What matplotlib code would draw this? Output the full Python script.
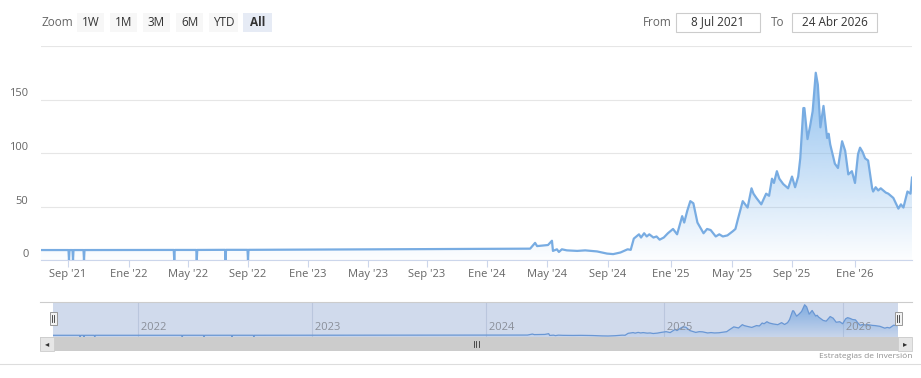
import matplotlib
matplotlib.use("Agg")

import matplotlib.pyplot as plt
import matplotlib.dates as mdates
import numpy as np
import pandas as pd
from matplotlib.patches import Rectangle, Polygon
from matplotlib.lines import Line2D


# ==================================================
# DATA
# ==================================================

dates = [
    "2021-07-08", "2021-09-02", "2021-09-03", "2021-09-04", "2021-09-10",
    "2021-09-11", "2021-09-12", "2021-10-02", "2021-10-03", "2021-10-04",
    "2022-04-02", "2022-04-03", "2022-04-04", "2022-05-18", "2022-05-19",
    "2022-05-20", "2022-07-16", "2022-07-17", "2022-07-18", "2022-08-31",
    "2022-09-01", "2022-09-02", "2023-01-15", "2023-06-01", "2023-11-01",
    "2024-03-28", "2024-04-07", "2024-04-11", "2024-04-22", "2024-05-03",
    "2024-05-11", "2024-05-13", "2024-05-21", "2024-05-25", "2024-05-31",
    "2024-06-10", "2024-07-01", "2024-07-17", "2024-08-10", "2024-08-30",
    "2024-09-11", "2024-09-25", "2024-10-09", "2024-10-15", "2024-10-21",
    "2024-10-31", "2024-11-04", "2024-11-10", "2024-11-15", "2024-11-20",
    "2024-11-28", "2024-12-04", "2024-12-10", "2024-12-18", "2024-12-26",
    "2025-01-05", "2025-01-13", "2025-01-23", "2025-01-27", "2025-02-02",
    "2025-02-08", "2025-02-14", "2025-02-22", "2025-03-06", "2025-03-13",
    "2025-03-20", "2025-03-30", "2025-04-06", "2025-04-13", "2025-04-22",
    "2025-05-03", "2025-05-08", "2025-05-13", "2025-05-23", "2025-06-02",
    "2025-06-10", "2025-06-14", "2025-06-20", "2025-06-30", "2025-07-04",
    "2025-07-10", "2025-07-16", "2025-07-22", "2025-07-26", "2025-08-01",
    "2025-08-06", "2025-08-14", "2025-08-24", "2025-09-01", "2025-09-07",
    "2025-09-13", "2025-09-17", "2025-09-23", "2025-09-25", "2025-10-01",
    "2025-10-06", "2025-10-11", "2025-10-17", "2025-10-21", "2025-10-26",
    "2025-11-01", "2025-11-08", "2025-11-11", "2025-11-14", "2025-11-19",
    "2025-11-23", "2025-11-29", "2025-12-07", "2025-12-13", "2025-12-19",
    "2025-12-26", "2026-01-01", "2026-01-07", "2026-01-11", "2026-01-16",
    "2026-01-21", "2026-01-27", "2026-02-04", "2026-02-06", "2026-02-11",
    "2026-02-16", "2026-02-21", "2026-02-26", "2026-03-03", "2026-03-08",
    "2026-03-13", "2026-03-18", "2026-03-28", "2026-04-02", "2026-04-07",
    "2026-04-15", "2026-04-21", "2026-04-24",
]

values = [
    9.3, 9.3, 0, 9.3, 9.3,
    0, 9.3, 9.3, 0, 9.3,
    9.4, 0, 9.4, 9.4, 0,
    9.4, 9.5, 0, 9.5, 9.5,
    0, 9.5, 9.7, 10.0, 10.3,
    10.6, 16, 13, 13.5, 14,
    18, 8.5, 10, 7.5, 10,
    9, 8.5, 9, 8, 6,
    5.5, 7, 10, 9.5, 20,
    24, 21, 25, 22, 24,
    21, 22, 19, 21, 25,
    29, 24, 41, 35, 46,
    55, 53, 35, 25, 29,
    28, 22, 24, 22, 23,
    27, 29, 38, 55, 49,
    67, 62, 58, 52, 56,
    62, 60, 76, 72, 83,
    76, 71, 67, 78, 68,
    78, 95, 142, 142, 113,
    125, 139, 175, 164, 124,
    144, 114, 118, 108, 98,
    90, 86, 111, 102, 80,
    83, 72, 99, 105, 101,
    95, 93, 67, 64, 68,
    65, 67, 65, 63, 62,
    60, 58, 48, 52, 49,
    64, 62, 77,
]

y_ticks = [0, 50, 100, 150, 200]
month_names = {1: "Ene", 5: "May", 9: "Sep"}
zoom_buttons = ["1W", "1M", "3M", "6M", "YTD", "All"]
date_from = "8 Jul 2021"
date_to = "24 Abr 2026"
nav_years = [2022, 2023, 2024, 2025, 2026]
credit = "Estrategias de Inversión"

# ordinal-like axis: where each date anchor sits along the axis (px)
axis_anchor_dates = [
    "2021-07-08", "2021-09-01", "2022-01-01", "2022-05-01", "2022-09-01",
    "2023-01-01", "2023-05-01", "2023-09-01", "2024-01-01", "2024-05-01",
    "2024-09-01", "2025-01-01", "2025-05-01", "2025-09-01", "2026-01-01",
    "2026-04-24",
]
axis_anchor_pos = [
    41, 68, 129, 188, 248, 308, 368, 427, 487, 547, 608, 671, 732, 792,
    855, 912,
]


# ==================================================
# STYLE
# ==================================================

plt.rcParams["font.family"] = ["Open Sans", "DejaVu Sans"]

W, H = 921, 378
LINE = "#78ace2"
FILL_RGB = np.array([124, 181, 236]) / 255
GRID = "#e6e6e6"
LABEL = "#666666"


def fx(x):
    return x / W


def fy(y):
    return 1 - y / H


def ax_rect(x0, y0, x1, y1):
    return [fx(x0), fy(y1), fx(x1) - fx(x0), fy(y0) - fy(y1)]


x = mdates.date2num(pd.to_datetime(dates))
v = np.array(values, dtype=float)

anc_d = mdates.date2num(pd.to_datetime(axis_anchor_dates))
anc_p = np.array(axis_anchor_pos, dtype=float)


def fwd(d):
    return np.interp(d, anc_d, anc_p)


def inv(p):
    return np.interp(p, anc_p, anc_d)


def gradient_area(ax, top, a_top, a_bot, line_color, lw):
    grad = np.zeros((256, 1, 4))
    grad[:, 0, :3] = FILL_RGB
    grad[:, 0, 3] = np.linspace(a_bot, a_top, 256)
    im = ax.imshow(
        grad, origin="lower", aspect="auto",
        extent=[x[0], x[-1], 0, top], zorder=1,
        interpolation="bilinear"
    )
    verts = [(x[0], 0)] + list(zip(x, v)) + [(x[-1], 0)]
    poly = Polygon(verts, closed=True, facecolor="none", edgecolor="none")
    ax.add_patch(poly)
    im.set_clip_path(poly)
    ax.plot(x, v, color=line_color, lw=lw, zorder=3, solid_joinstyle="round")


fig = plt.figure(figsize=(W / 100, H / 100), dpi=100)


# ==================================================
# MAIN CHART
# ==================================================

ax = fig.add_axes(ax_rect(41, 46, 912, 260))
ax.set_xscale("function", functions=(fwd, inv))
gradient_area(ax, 175, 0.85, 0.02, LINE, 1.6)

ax.set_xlim(x[0], x[-1])
ax.set_ylim(0, 200)
ax.set_yticks(y_ticks)
ax.yaxis.grid(True, color=GRID, lw=0.8)
ax.set_axisbelow(True)
for s in ["top", "right", "left"]:
    ax.spines[s].set_visible(False)
ax.spines["bottom"].set_color("#ccd6eb")
ax.spines["bottom"].set_linewidth(0.8)

ax.set_yticklabels([str(t) if t < 200 else "" for t in y_ticks])
ax.tick_params(axis="y", length=0, pad=9, labelsize=8, labelcolor=LABEL)
for lbl in ax.get_yticklabels():
    lbl.set_verticalalignment("bottom")

ax.xaxis.set_major_locator(mdates.MonthLocator(bymonth=[1, 5, 9]))
ax.xaxis.set_minor_locator(plt.NullLocator())
ax.xaxis.set_major_formatter(
    plt.FuncFormatter(
        lambda d, _: f"{month_names[mdates.num2date(d).month]} '"
                     f"{mdates.num2date(d).year % 100:02d}"
    )
)
ax.tick_params(axis="x", length=5, width=0.8, color="#ccd6eb",
               pad=1.5, labelsize=8, labelcolor=LABEL)


# ==================================================
# NAVIGATOR
# ==================================================

nav = fig.add_axes(ax_rect(53, 302, 898, 337))
nav.set_xscale("function", functions=(fwd, inv))
gradient_area(nav, 175, 0.9, 0.1, "#6b9fdc", 0.9)
nav.set_xlim(x[0], x[-1])
nav.set_ylim(0, 190)
nav.set_xticks([])
nav.set_xticks([], minor=True)
nav.set_yticks([])
for s in nav.spines.values():
    s.set_visible(False)

for yr in nav_years:
    xd = mdates.date2num(pd.Timestamp(f"{yr}-01-01"))
    nav.axvline(xd, color="#dfe3ea", lw=0.8, zorder=0.5)
    nav.text(xd, 0.1, f" {yr}", transform=nav.get_xaxis_transform(),
             fontsize=8, color="#8a8f99", ha="left", va="bottom", zorder=6)

nav.add_patch(Rectangle((0, 0), 1, 1, transform=nav.transAxes,
                        facecolor="#6685c2", alpha=0.3, zorder=5,
                        edgecolor="none"))

fig.add_artist(Line2D([fx(40), fx(912)], [fy(302), fy(302)],
                      color="#cccccc", lw=0.8))

# handles
for hx in [53, 898]:
    fig.add_artist(Rectangle((fx(hx - 3.5), fy(325)), fx(7), 13 / H,
                             facecolor="#f2f2f2", edgecolor="#999999",
                             lw=0.7))
    for dx in [-1, 1]:
        fig.add_artist(Line2D([fx(hx + dx), fx(hx + dx)],
                              [fy(315), fy(322)], color="#333333", lw=0.6))

# scrollbar
fig.add_artist(Rectangle((fx(40), fy(351)), fx(872), 14 / H,
                         facecolor="#cccccc", edgecolor="none"))
for bx in [40, 898]:
    fig.add_artist(Rectangle((fx(bx), fy(351)), fx(14), 14 / H,
                             facecolor="#e6e6e6", edgecolor="#cccccc",
                             lw=0.6))
fig.text(fx(47), fy(344), "◂", fontsize=6, color="#333333",
         ha="center", va="center", family="DejaVu Sans")
fig.text(fx(905), fy(344), "▸", fontsize=6, color="#333333",
         ha="center", va="center", family="DejaVu Sans")
for gx in [-2.5, 0, 2.5]:
    fig.add_artist(Line2D([fx(476 + gx), fx(476 + gx)],
                          [fy(341), fy(347)], color="#333333", lw=0.6))

fig.text(fx(912), fy(357), credit, fontsize=6, color="#909090",
         ha="right", va="center")
fig.add_artist(Line2D([0, 1], [fy(364), fy(364)], color="#dddddd", lw=0.8))


# ==================================================
# RANGE SELECTOR
# ==================================================

fig.text(fx(41), fy(22), "Zoom", fontsize=8.5, color="#666666",
         ha="left", va="center")

bx = 77
for b in zoom_buttons:
    w = 29 if b in ["YTD", "All"] else 27
    sel = b == "All"
    fig.add_artist(Rectangle((fx(bx), fy(32)), fx(w), 19 / H,
                             facecolor="#e6ebf5" if sel else "#f7f7f7",
                             edgecolor="none"))
    fig.text(fx(bx + w / 2), fy(22), b, fontsize=8.5, color="#333333",
             ha="center", va="center",
             fontweight="bold" if sel else "normal")
    bx += w + 6 if b != "YTD" else w + 5

fig.text(fx(643), fy(22), "From", fontsize=8.5, color="#666666",
         ha="left", va="center")
fig.text(fx(771), fy(22), "To", fontsize=8.5, color="#666666",
         ha="left", va="center")
for (x0, x1), txt in [((676, 760), date_from), ((792, 877), date_to)]:
    fig.add_artist(Rectangle((fx(x0), fy(32)), fx(x1 - x0), 19 / H,
                             facecolor="white", edgecolor="#cccccc",
                             lw=0.8))
    fig.text(fx((x0 + x1) / 2), fy(22), txt, fontsize=8.5,
             color="#333333", ha="center", va="center")

fig.savefig("out.png", dpi=100)
